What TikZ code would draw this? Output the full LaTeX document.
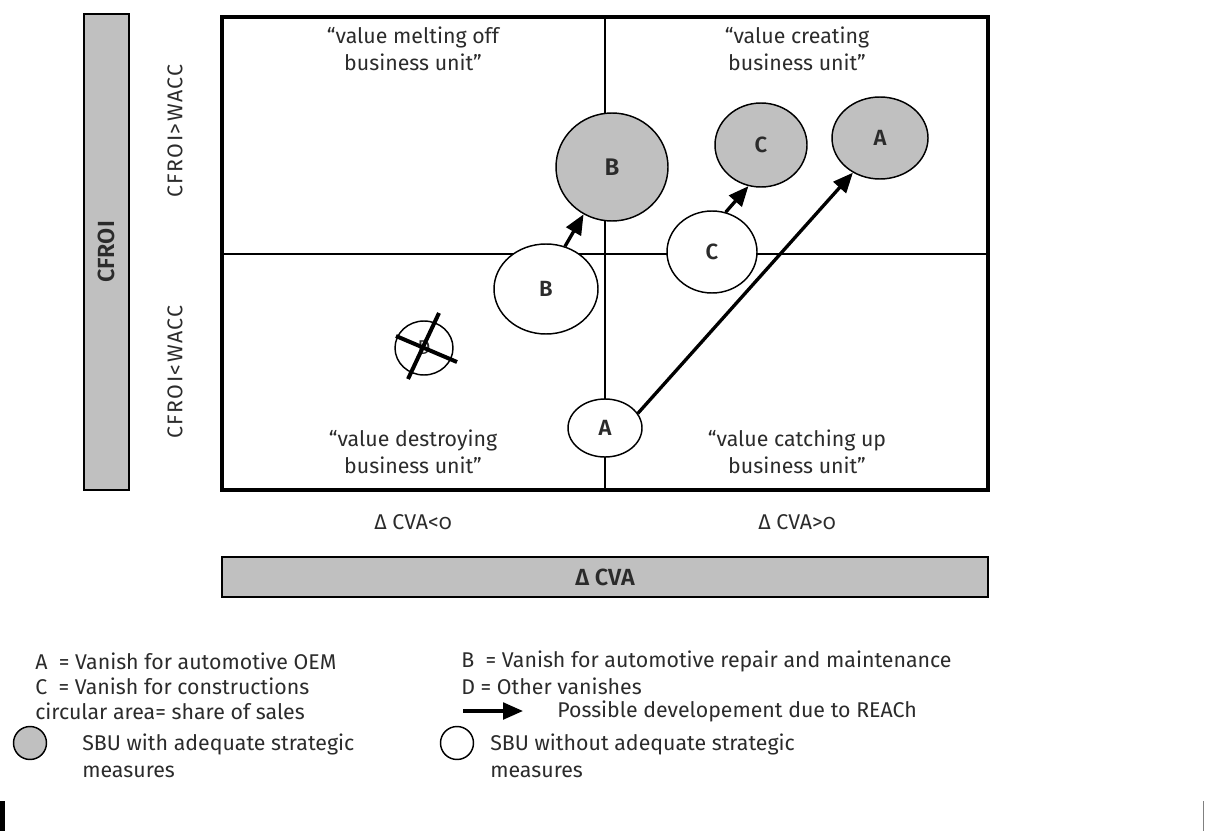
\documentclass[tikz,border=0pt]{standalone}
\usepackage{fontspec}
\setmainfont{Fira Sans}[Numbers=OldStyle, BoldFont={Fira Sans SemiBold}]
\usetikzlibrary{shapes.geometric, arrows.meta}
\definecolor{barfill}{HTML}{C0C0C0}
\definecolor{txt}{HTML}{2B2B2B}
\newcommand\lgfont{\fontsize{16}{20}\selectfont}
\newcommand\lbfont{\fontsize{16.5}{19}\selectfont\bfseries}
\newcommand\axfont{\fontsize{16}{20}\selectfont\addfontfeatures{LetterSpace=7}}
\begin{document}
\begin{tikzpicture}[x=0.75pt,y=-0.75pt,
  plain/.style={inner sep=0pt, text=txt, font=\lgfont},
  quad/.style={line width=2.2pt},
  frame/.style={line width=2.8pt},
  bar/.style={draw, line width=2.2pt, fill=barfill},
  sbu/.style={ellipse, draw, line width=1.1pt, inner sep=0pt, text=txt, font=\lbfont},
  graysbu/.style={sbu, fill=barfill},
  whitesbu/.style={sbu, fill=white},
  devarrow/.style={-{Triangle[length=15pt,width=12.5pt]}, line width=2.5pt},
  cross/.style={line width=3pt},
]
\useasboundingbox (0,0) rectangle (1205,831);
% axis bars
\node[bar, minimum width=45*0.75pt, minimum height=476*0.75pt, inner sep=0pt] (cfroibar) at (106.5,252) {};
\node[plain, font=\fontsize{17.5}{20}\selectfont\bfseries, rotate=90] (cfroi) at (cfroibar.center) {CFROI};
\node[bar, minimum width=766*0.75pt, minimum height=40*0.75pt, inner sep=0pt] (cvabar) at (605,577) {};
\node[plain, font=\fontsize{17.5}{20}\selectfont\bfseries] (cva) at (cvabar.center) {Δ CVA};
% matrix
\coordinate (tl) at (222,17);
\coordinate (br) at (988,490);
\coordinate (mt) at (605,17);
\coordinate (mb) at (605,490);
\coordinate (ml) at (222,254);
\coordinate (mr) at (988,254);
\draw[quad] (mt) -- (mb);
\draw[quad] (ml) -- (mr);
\draw[frame] (tl) rectangle (br);
% axis labels
\node[plain, font=\axfont, rotate=90] (hi) at (175,131) {CFROI>WACC};
\node[plain, font=\axfont, rotate=90] (lo) at (175,372) {CFROI<WACC};
\node[plain] (neg) at (413,522) {Δ CVA<0};
\node[plain] (pos) at (797,522) {Δ CVA>0};
% quadrant names
\node[plain, align=center] (q1) at (413,49) {“value melting off\\business unit”};
\node[plain, align=center] (q2) at (797,49) {“value creating\\business unit”};
\node[plain, align=center] (q3) at (413,452) {“value destroying\\business unit”};
\node[plain, align=center] (q4) at (797,452) {“value catching up\\business unit”};
% SBUs
\node[graysbu, font=\fontsize{18}{20}\selectfont\bfseries, minimum width=112*0.75pt, minimum height=108*0.75pt] (Bg) at (612,167) {B};
\node[graysbu, minimum width=92*0.75pt, minimum height=84*0.75pt] (Cg) at (761,145) {C};
\node[graysbu, minimum width=96*0.75pt, minimum height=82*0.75pt] (Ag) at (880,138) {A};
\node[whitesbu, minimum width=104*0.75pt, minimum height=90*0.75pt] (Bw) at (546,289) {B};
\node[whitesbu, minimum width=90*0.75pt, minimum height=82*0.75pt] (Cw) at (712,252) {C};
\node[whitesbu, minimum width=74*0.75pt, minimum height=58*0.75pt] (Aw) at (605,428) {A};
\node[whitesbu, font=\fontsize{15}{17}\selectfont, minimum width=58*0.75pt, minimum height=54*0.75pt] (Dw) at (424,348) {D};
\coordinate (d1) at (439,313);
\coordinate (d2) at (408,379);
\coordinate (d3) at (396,336);
\coordinate (d4) at (457,362);
\draw[cross] (d1) -- (d2);
\draw[cross] (d3) -- (d4);
% development arrows
\draw[devarrow] (Bw.66) -- (Bg.239);
\draw[devarrow] (Cw.71) -- (Cg.253);
\draw[devarrow] (Aw.24) -- (Ag.232);
% legend
\node[plain, anchor=west] (lA) at (35,661) {A~~= Vanish for automotive OEM};
\node[plain, anchor=west] (lC) at (35,686) {C~~= Vanish for constructions};
\node[plain, anchor=west] (lS) at (35,711) {circular area= share of sales};
\node[plain, anchor=west] (lB) at (461,661) {B~~= Vanish for automotive repair and maintenance};
\node[plain, anchor=west] (lD) at (461,686) {D = Other vanishes};
\coordinate (a1) at (463,711);
\coordinate (a2) at (523,711);
\draw[devarrow] (a1) -- (a2);
\node[plain, anchor=west] (lP) at (557,711) {Possible developement due to REACh};
\node[graysbu, minimum width=33*0.75pt, minimum height=33*0.75pt] (lg) at (30,743) {};
\node[plain, anchor=west, align=left] (lgt) at (82,756) {SBU with adequate strategic\\measures};
\node[whitesbu, minimum width=33*0.75pt, minimum height=33*0.75pt] (lw) at (457,743) {};
\node[plain, anchor=west, align=left] (lwt) at (490,756) {SBU without adequate strategic\\measures};
% edge marks
\fill[black] (0,801) rectangle (5,831);
\draw[gray, line width=1pt] (1203.5,801) -- (1203.5,831);
\end{tikzpicture}
\end{document}
